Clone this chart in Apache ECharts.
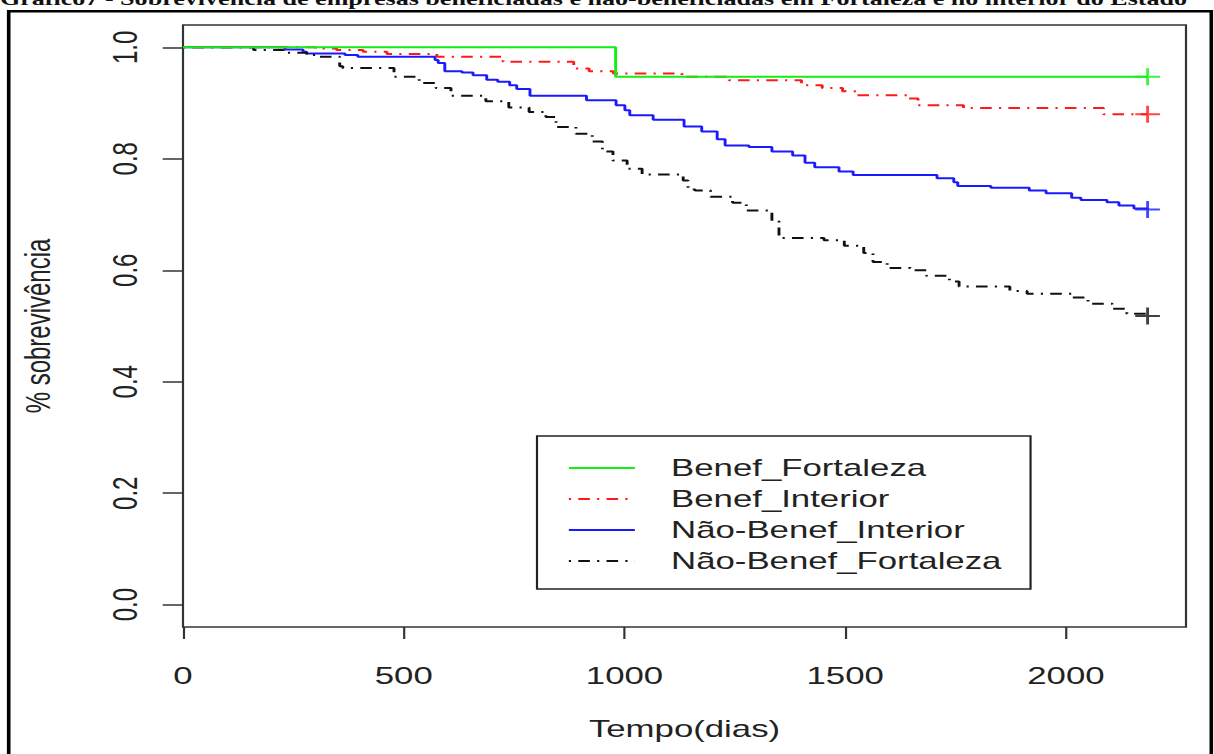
<!DOCTYPE html>
<html><head><meta charset="utf-8">
<script src="https://cdn.jsdelivr.net/npm/echarts@6/dist/echarts.min.js"></script>
<style>
html,body{margin:0;padding:0;background:#fff;overflow:hidden;width:1214px;height:754px}
#chart{width:838px;height:754px;transform-origin:0 0;}
</style></head><body>
<div id="chart"></div>
<script>
// ---- data ----
const seriesNames = ['Benef_Fortaleza', 'Benef_Interior', 'Não-Benef_Interior', 'Não-Benef_Fortaleza'];

const daysBenefFortaleza = [0, 980, 2185];
const survBenefFortaleza = [1, 0.947, 0.947];

const daysBenefInterior = [0, 300, 348, 408, 462, 575, 725, 885, 920, 975, 1130, 1237, 1401, 1448, 1494, 1525, 1642, 1665, 1768, 2085, 2185];
const survBenefInterior = [1, 0.998, 0.995, 0.992, 0.988, 0.983, 0.974, 0.962, 0.957, 0.953, 0.947, 0.941, 0.932, 0.927, 0.921, 0.914, 0.908, 0.896, 0.891, 0.880, 0.880];

const daysNaoBenefInterior = [0, 231, 272, 280, 367, 396, 571, 578, 593, 632, 657, 688, 713, 740, 756, 786, 914, 981, 1001, 1012, 1065, 1135, 1175, 1210, 1228, 1282, 1334, 1381, 1409, 1431, 1486, 1518, 1708, 1746, 1755, 1830, 1917, 1955, 2013, 2034, 2093, 2120, 2154, 2185];
const survNaoBenefInterior = [1, 0.996, 0.992, 0.989, 0.986, 0.983, 0.977, 0.972, 0.957, 0.955, 0.950, 0.942, 0.938, 0.932, 0.925, 0.913, 0.905, 0.896, 0.887, 0.878, 0.870, 0.858, 0.849, 0.835, 0.824, 0.821, 0.813, 0.806, 0.793, 0.785, 0.777, 0.771, 0.765, 0.758, 0.751, 0.748, 0.743, 0.738, 0.730, 0.726, 0.722, 0.716, 0.711, 0.709];

const daysNaoBenefFortaleza = [0, 160, 227, 280, 310, 355, 362, 478, 535, 573, 607, 686, 738, 784, 822, 845, 890, 927, 950, 974, 1006, 1040, 1133, 1144, 1160, 1195, 1245, 1276, 1334, 1350, 1452, 1498, 1542, 1563, 1595, 1648, 1684, 1736, 1758, 1873, 1912, 2015, 2050, 2105, 2138, 2185];
const survNaoBenefFortaleza = [1, 0.995, 0.990, 0.986, 0.983, 0.966, 0.963, 0.947, 0.936, 0.927, 0.913, 0.903, 0.892, 0.884, 0.875, 0.857, 0.845, 0.831, 0.813, 0.797, 0.782, 0.772, 0.761, 0.745, 0.743, 0.732, 0.721, 0.707, 0.688, 0.658, 0.654, 0.644, 0.631, 0.615, 0.604, 0.600, 0.590, 0.580, 0.571, 0.563, 0.558, 0.551, 0.540, 0.531, 0.522, 0.518];

const xTicks = [0, 500, 1000, 1500, 2000];
const yTicks = [0, 0.2, 0.4, 0.6, 0.8, 1.0];

const titleText = 'Gráfico7 - Sobrevivência de empresas beneficiadas e não-beneficiadas em Fortaleza e no interior do Estado';
const xName = 'Tempo(dias)';
const yName = '% sobrevivência';

// ---- layout ----
const S = 1214 / 838;          // horizontal stretch of the reference picture
const W = 838;
document.getElementById('chart').style.transform = 'scaleX(' + S + ')';
const chart = echarts.init(document.getElementById('chart'), null, {renderer: 'svg'});

const font = '"Liberation Sans", Arial, sans-serif';
const txt = '#222';
const dotdash = [1.5, 5, 8, 5];
const colors = ['#11ee11', '#ff1a1a', '#1a1aff', '#111111'];
const styles = ['solid', dotdash, 'solid', dotdash];
const zs = [5, 4, 2, 3];

function stepSeries(i, days, surv) {
  return {
    name: seriesNames[i], type: 'line', step: 'end',
    data: days.map((d, k) => [d, surv[k]]),
    symbol: 'none', showSymbol: false,
    lineStyle: {color: colors[i], width: 2, type: styles[i]},
    itemStyle: {color: colors[i]},
    z: zs[i], silent: true, animation: false
  };
}
function censorSeries(i, days, surv) {
  const k = days.length - 1;
  return {
    name: 'cens' + i, type: 'scatter',
    data: [[days[k], surv[k]]],
    symbol: 'path://M5,0L5,10M0,5L10,5', symbolSize: 17,
    itemStyle: {color: 'none', borderColor: colors[i], borderWidth: 2},
    z: 10, silent: true, animation: false
  };
}

const allDays = [daysBenefFortaleza, daysBenefInterior, daysNaoBenefInterior, daysNaoBenefFortaleza];
const allSurv = [survBenefFortaleza, survBenefInterior, survNaoBenefInterior, survNaoBenefFortaleza];
const series = [];
for (let i = 0; i < 4; i++) series.push(stepSeries(i, allDays[i], allSurv[i]));
for (let i = 0; i < 4; i++) series.push(censorSeries(i, allDays[i], allSurv[i]));

const option = {
  animation: false,
  backgroundColor: '#fff',
  grid: {
    left: 183 / S, right: W - 1186 / S, top: 25, bottom: 754 - 627,
    show: true, borderColor: '#333', borderWidth: 1.5, backgroundColor: 'transparent'
  },
  xAxis: {
    type: 'value', min: 0, max: 2272,
    axisLine: {show: false, onZero: false},
    splitLine: {show: false},
    axisTick: {show: true, length: 12, customValues: xTicks, lineStyle: {color: '#333', width: 1.5}},
    axisLabel: {customValues: xTicks, margin: 37, fontFamily: font, fontSize: 24, color: txt,
      formatter: v => String(Math.round(v))},
    name: xName, nameLocation: 'middle', nameGap: 90,
    nameTextStyle: {fontFamily: font, fontSize: 24, color: txt}
  },
  yAxis: {
    type: 'value', min: -0.04, max: 1.04,
    axisLine: {show: false, onZero: false},
    splitLine: {show: false},
    axisTick: {show: true, length: 14, customValues: yTicks, lineStyle: {color: '#333', width: 1.5}},
    axisLabel: {customValues: yTicks, rotate: 90, margin: 28, fontFamily: font, fontSize: 24, color: txt,
      formatter: v => Number(v).toFixed(1)},
    name: yName, nameLocation: 'middle', nameGap: 88, nameRotate: 90,
    nameTextStyle: {fontFamily: font, fontSize: 24, color: txt}
  },
  legend: {
    data: seriesNames, orient: 'vertical', left: 537 / S, top: 436,
    itemWidth: 66 / S, itemHeight: 24, itemGap: 7,
    padding: [20, 20, 16, 21],
    borderColor: '#222', borderWidth: 1.5, backgroundColor: '#fff',
    selectedMode: false,
    itemStyle: {opacity: 0, color: 'transparent', borderWidth: 0},
    textStyle: {fontFamily: font, fontSize: 24, color: txt, lineHeight: 24, padding: [0, 0, 0, 20]}
  },
  graphic: [
    {type: 'rect', silent: true, z: -10,
      shape: {x: 8.7 / S, y: 11.3, width: (1211.3 - 8.7) / S, height: 800},
      style: {fill: 'none', stroke: '#000', lineWidth: 2.5}},
    {type: 'text', silent: true, x: 0, y: 8,
      style: {text: titleText, font: 'bold 18px "Liberation Serif", serif', fill: '#111', verticalAlign: 'bottom', align: 'left'}}
  ],
  series: series
};
chart.setOption(option);
</script>
</body></html>
